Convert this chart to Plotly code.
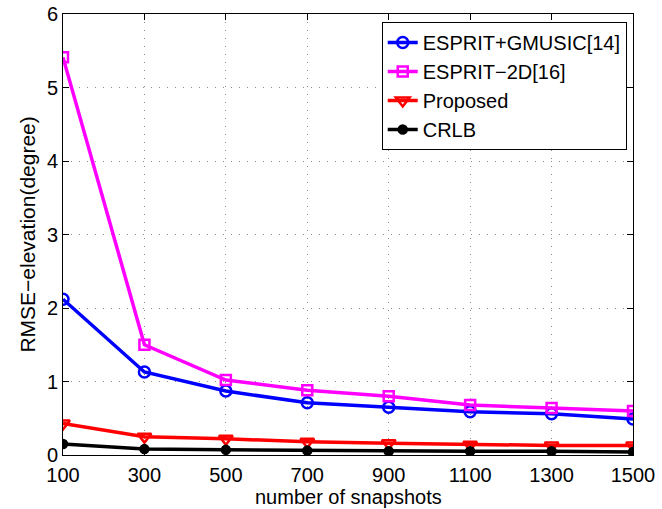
import plotly.graph_objects as go

snapshots = [100, 300, 500, 700, 900, 1100, 1300, 1500]
esprit_gmusic = [2.12, 1.13, 0.87, 0.71, 0.65, 0.59, 0.56, 0.49]
esprit_2d = [5.41, 1.50, 1.02, 0.88, 0.80, 0.68, 0.64, 0.60]
proposed = [0.43, 0.25, 0.22, 0.18, 0.16, 0.14, 0.13, 0.13]
crlb = [0.15, 0.08, 0.07, 0.06, 0.05, 0.05, 0.05, 0.04]

series = [
    ("ESPRIT+GMUSIC[14]", esprit_gmusic, "#0000ff", "circle-open", 11),
    ("ESPRIT\u22122D[16]", esprit_2d, "#ff00ff", "square-open", 10),
    ("Proposed", proposed, "#ff0000", "triangle-down-open", 12),
    ("CRLB", crlb, "#000000", "circle", 8),
]

FONT = "Liberation Sans, Arial"

fig = go.Figure()
for name, vals, color, symbol, size in series:
    fig.add_trace(go.Scatter(
        x=snapshots, y=vals, name=name, mode="lines+markers",
        line=dict(color=color, width=3.5),
        marker=dict(symbol=symbol, size=size, color=color,
                    line=dict(color=color, width=2.5)),
    ))

axis_common = dict(
    showline=True, linecolor="black", linewidth=1, mirror="ticks",
    ticks="inside", ticklen=6, tickcolor="black",
    showgrid=True, gridcolor="#8a8a8a", griddash="1px,7px", gridwidth=1,
    zeroline=False, automargin=False,
    tickfont=dict(family=FONT, size=20, color="black"),
)

fig.update_xaxes(range=[100, 1500], tickvals=snapshots,
                 ticklabelstandoff=2, **axis_common)
fig.update_yaxes(range=[0, 6], tickvals=[0, 1, 2, 3, 4, 5, 6], **axis_common)

# axis titles
fig.add_annotation(
    text="number of snapshots", xref="paper", yref="paper",
    x=0.5, y=-0.095, xanchor="center", yanchor="middle", showarrow=False,
    font=dict(family=FONT, size=20, color="black"),
)
fig.add_annotation(
    text="RMSE\u2212elevation(degree)", xref="paper", yref="paper",
    x=-0.063, y=0.5, xanchor="center", yanchor="middle", showarrow=False,
    textangle=-90, font=dict(family=FONT, size=21, color="black"),
)

fig.update_layout(
    width=662, height=509,
    margin=dict(l=63, r=29, t=14, b=54),
    paper_bgcolor="white", plot_bgcolor="white",
    showlegend=True,
    legend=dict(
        x=0.989, y=0.982, xanchor="right", yanchor="top",
        bgcolor="white", bordercolor="black", borderwidth=1,
        font=dict(family=FONT, size=20, color="black"),
        tracegroupgap=0,
    ),
)

fig.write_html("out.html")
